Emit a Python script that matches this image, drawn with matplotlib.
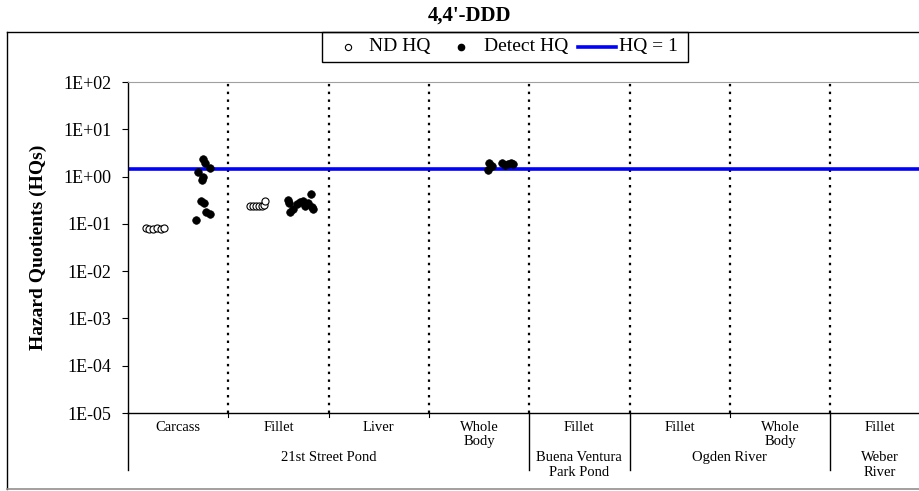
import matplotlib
matplotlib.use("Agg")
import matplotlib.pyplot as plt
from matplotlib.lines import Line2D
from matplotlib.patches import Rectangle
import matplotlib.transforms as mtransforms
from matplotlib.ticker import FixedLocator, FixedFormatter

plt.rcParams['font.family'] = ['Liberation Serif', 'DejaVu Serif']

# ---------------- data ----------------
title = "4,4'-DDD"
ylabel = "Hazard Quotients (HQs)"
categories = ["Carcass", "Fillet", "Liver", "Whole\nBody", "Fillet", "Fillet", "Whole\nBody", "Fillet"]
groups = ["21st Street Pond", "Buena Ventura\nPark Pond", "Ogden River", "Weber\nRiver"]
group_sizes = [4, 1, 2, 1]

ytick_vals = [1e-5, 1e-4, 1e-3, 1e-2, 1e-1, 1e0, 1e1, 1e2]
ytick_labels = ["1E-05", "1E-04", "1E-03", "1E-02", "1E-01", "1E+00", "1E+01", "1E+02"]

hq_line_value = 1.47

# ND (non-detect) HQ points: x in category units (category i spans i..i+1)
nd_x = [0.18, 0.21, 0.25, 0.29, 0.33, 0.36,
        1.22, 1.25, 1.28, 1.31, 1.34, 1.36, 1.37]
nd_y = [0.080, 0.078, 0.079, 0.080, 0.079, 0.080,
        0.235, 0.24, 0.24, 0.24, 0.242, 0.245, 0.31]

# Detect HQ points
det_x = [0.75, 0.77, 0.82, 0.70, 0.75, 0.74, 0.73, 0.76, 0.78, 0.82, 0.68,
         1.60, 1.61, 1.62, 1.65, 1.68, 1.71, 1.74, 1.76, 1.79, 1.82, 1.83, 1.84,
         3.59, 3.60, 3.63, 3.73, 3.76, 3.79, 3.82, 3.84]
det_y = [2.40, 1.95, 1.50, 1.22, 1.00, 0.85, 0.30, 0.27, 0.18, 0.16, 0.12,
         0.32, 0.27, 0.18, 0.21, 0.26, 0.29, 0.31, 0.24, 0.27, 0.42, 0.23, 0.21,
         1.35, 1.95, 1.65, 1.95, 1.75, 1.85, 1.90, 1.85]

legend_labels = ["ND HQ", "Detect HQ", "HQ = 1"]

# ---------------- figure ----------------
W, H = 920, 491
fig = plt.figure(figsize=(W / 100, H / 100), dpi=100)


def fx(px):
    return px / W


def fy(py):
    return 1 - py / H


ax_left, ax_right, ax_top, ax_bot = 128, 930.4, 82, 413
ax = fig.add_axes([fx(ax_left), fy(ax_bot), fx(ax_right - ax_left), (ax_bot - ax_top) / H])
ax.set_yscale('log')
ax.set_ylim(1e-5, 1e2)
ncat = len(categories)
ax.set_xlim(0, ncat)

# dotted category dividers
for i in range(1, ncat):
    ax.axvline(i, color='black', lw=1.6, linestyle=(0, (1.1, 2.4)), zorder=1)

# HQ = 1 line
ax.axhline(hq_line_value, color='#0000FF', lw=2.6, zorder=2)

ax.scatter(nd_x, nd_y, s=26, facecolors='white', edgecolors='black', linewidths=0.8, zorder=3)
ax.scatter(det_x, det_y, s=30, facecolors='black', edgecolors='black', linewidths=0.5, zorder=4)

# axes styling
ax.yaxis.set_major_locator(FixedLocator(ytick_vals))
ax.yaxis.set_major_formatter(FixedFormatter(ytick_labels))
ax.yaxis.set_minor_locator(FixedLocator([]))
ax.tick_params(axis='y', direction='out', length=4, width=0.8, pad=8, labelsize=13)
ax.set_xticks([])
ax.spines['right'].set_visible(False)
ax.spines['top'].set_color('#a0a0a0')
ax.spines['left'].set_linewidth(1.0)
ax.spines['bottom'].set_linewidth(1.0)

fig.text(fx(38), fy(247), ylabel, rotation=90, ha='center', va='center',
         fontsize=14, fontweight='bold')

# category / group labels below axis
blend = mtransforms.blended_transform_factory(ax.transData, fig.transFigure)
for i, lab in enumerate(categories):
    fig.text(i + 0.5, fy(421), lab, transform=blend, ha='center', va='top',
             fontsize=10.5, linespacing=1.15)

# group separators and minor ticks
boundaries = [0]
for g in group_sizes:
    boundaries.append(boundaries[-1] + g)
for i in range(0, ncat + 1):
    if i in boundaries:
        fig.add_artist(Line2D([i, i], [fy(ax_bot), fy(470)], transform=blend, color='black', lw=1.0))
    else:
        fig.add_artist(Line2D([i, i], [fy(ax_bot), fy(417)], transform=blend, color='black', lw=0.8))

for gi, gl in enumerate(groups):
    c = (boundaries[gi] + boundaries[gi + 1]) / 2
    fig.text(c, fy(451), gl, transform=blend, ha='center', va='top',
             fontsize=10.5, linespacing=1.15)

# outer frame
fig.add_artist(Line2D([fx(7), 1.0], [fy(32), fy(32)], color='black', lw=1.0))
fig.add_artist(Line2D([fx(7), fx(7)], [fy(32), fy(489)], color='black', lw=1.0))
fig.add_artist(Line2D([fx(7), 1.0], [fy(489), fy(489)], color='#909090', lw=1.2))

# title
fig.text(fx(470), fy(16), title, ha='center', va='center', fontsize=15, fontweight='bold')

# legend (manual)
fig.add_artist(Rectangle((fx(322), fy(62)), fx(688 - 322), (62 - 32) / H,
                         facecolor='white', edgecolor='black', lw=1.0))
ly = fy(47)
fig.add_artist(Line2D([fx(348)], [ly], marker='o', markersize=4.5, markerfacecolor='white',
                      markeredgecolor='black', markeredgewidth=0.8, linestyle='none'))
fig.text(fx(369), ly, legend_labels[0], ha='left', va='center', fontsize=14)
fig.add_artist(Line2D([fx(461)], [ly], marker='o', markersize=4.5, markerfacecolor='black',
                      markeredgecolor='black', linestyle='none'))
fig.text(fx(484), ly, legend_labels[1], ha='left', va='center', fontsize=14)
fig.add_artist(Line2D([fx(578), fx(616)], [ly, ly], color='#0000FF', lw=2.6))
fig.text(fx(619), ly, legend_labels[2], ha='left', va='center', fontsize=14)

fig.savefig("out.png", dpi=100)
